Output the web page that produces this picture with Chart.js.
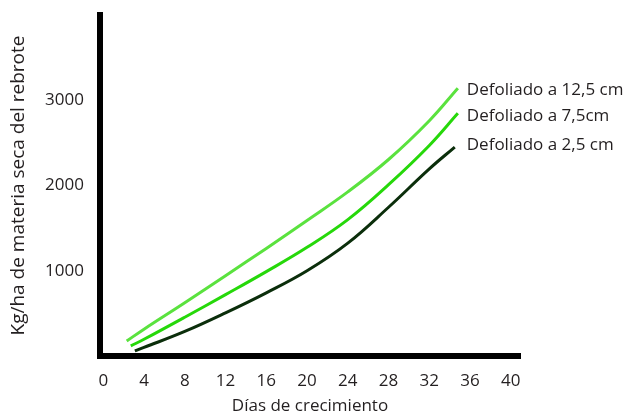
<!DOCTYPE html>
<html>
<head>
<meta charset="utf-8">
<script src="https://cdn.jsdelivr.net/npm/chart.js@4"></script>
<style>
html,body{margin:0;padding:0;background:#fff;}
#wrap{width:625px;height:412px;position:relative;}
</style>
</head>
<body>
<div id="wrap"><canvas id="c" width="625" height="412"></canvas></div>
<script>
const xTickLabels = [0, 4, 8, 12, 16, 20, 24, 28, 32, 36, 40];
const yTickLabels = [1000, 2000, 3000];

const seriesNames = ["Defoliado a 12,5 cm", "Defoliado a 7,5cm", "Defoliado a 2,5 cm"];

const days125 = [2.3, 4, 8, 12, 16, 20, 24, 28, 32, 34.8];
const kg125   = [176, 315, 625, 942, 1262, 1590, 1925, 2305, 2760, 3141];

const days75 = [2.7, 4, 8, 12, 16, 20, 24, 28, 32, 34.8];
const kg75   = [118, 196, 455, 720, 990, 1275, 1600, 2010, 2470, 2847];

const days25 = [3.1, 4, 8, 12, 16, 20, 24, 28, 32, 34.5];
const kg25   = [59, 100, 288, 506, 741, 1000, 1324, 1745, 2195, 2451];

const toPts = (xs, ys) => xs.map((x, i) => ({x: x, y: ys[i]}));

const textColor = '#231f20';
const fontFam = "'Open Sans', 'Noto Sans', sans-serif";

const labelOffsets = [[9, 2], [9, 3], [12, -2]];

const endLabels = {
  id: 'endLabels',
  afterDatasetsDraw(chart) {
    const ctx = chart.ctx;
    ctx.save();
    ctx.font = "17px " + fontFam;
    ctx.fillStyle = textColor;
    ctx.textAlign = 'left';
    ctx.textBaseline = 'middle';
    chart.data.datasets.forEach((ds, i) => {
      const meta = chart.getDatasetMeta(i);
      const last = meta.data[meta.data.length - 1];
      ctx.fillText(ds.label, last.x + labelOffsets[i][0], last.y + labelOffsets[i][1]);
    });
    ctx.restore();
  }
};

new Chart(document.getElementById('c'), {
  type: 'line',
  data: {
    datasets: [
      {label: seriesNames[0], data: toPts(days125, kg125), borderColor: '#5ae23e', borderWidth: 3, pointRadius: 0, tension: 0.4, fill: false},
      {label: seriesNames[1], data: toPts(days75, kg75), borderColor: '#26d80a', borderWidth: 3, pointRadius: 0, tension: 0.4, fill: false},
      {label: seriesNames[2], data: toPts(days25, kg25), borderColor: '#0b2e0b', borderWidth: 3, pointRadius: 0, tension: 0.4, fill: false}
    ]
  },
  options: {
    responsive: false,
    animation: false,
    layout: {padding: {left: 0, top: 15, right: 105, bottom: 0}},
    plugins: {legend: {display: false}, tooltip: {enabled: false}},
    scales: {
      x: {
        type: 'linear',
        min: -0.32,
        max: 40.9,
        afterBuildTicks: (s) => { s.ticks = xTickLabels.map(v => ({value: v})); },
        afterFit: (s) => { s.height = 56; },
        grid: {display: false, drawTicks: false},
        border: {display: true, width: 6, color: '#000'},
        ticks: {color: textColor, font: {family: fontFam, size: 17}, padding: 15, maxRotation: 0, autoSkip: false},
        title: {display: true, text: 'Días de crecimiento', color: textColor, font: {family: fontFam, size: 17}, padding: {top: 0, bottom: -4}}
      },
      y: {
        type: 'linear',
        min: 0,
        max: 4000,
        afterBuildTicks: (s) => { s.ticks = yTickLabels.map(v => ({value: v})); },
        afterFit: (s) => { s.width = 100; s.paddingTop = 0; },
        grid: {display: false, drawTicks: false},
        border: {display: true, width: 6, color: '#000'},
        ticks: {color: textColor, font: {family: fontFam, size: 17}, padding: 16, callback: (v) => String(v)},
        title: {display: true, text: 'Kg/ha de materia seca del rebrote', color: textColor, font: {family: fontFam, size: 19}, padding: {top: 7, bottom: 0}}
      }
    }
  },
  plugins: [endLabels]
});
</script>
</body>
</html>
